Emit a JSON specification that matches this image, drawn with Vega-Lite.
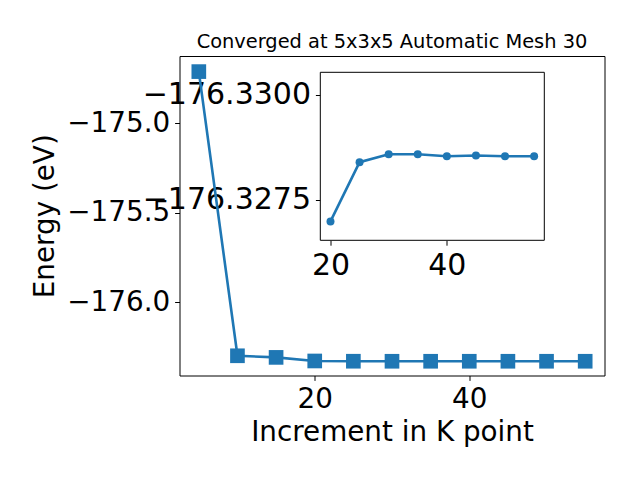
{
  "$schema": "https://vega.github.io/schema/vega-lite/v6.json",
  "autosize": "none",
  "width": 425,
  "height": 319.5,
  "padding": {"left": 179.5, "top": 56, "right": 35.5, "bottom": 104.5},
  "background": "white",
  "config": {
    "font": "DejaVu Sans",
    "view": {"stroke": "black", "strokeWidth": 1},
    "axis": {
      "grid": false,
      "domain": false,
      "tickColor": "black",
      "tickSize": 4.9,
      "tickWidth": 1,
      "labelPadding": 4.9,
      "labelFont": "DejaVu Sans",
      "labelFontSize": 27.8,
      "labelColor": "black",
      "titleFont": "DejaVu Sans",
      "titleFontSize": 27.8,
      "titleFontWeight": "normal",
      "titleColor": "black"
    }
  },
  "title": {
    "text": "Converged at 5x3x5 Automatic Mesh 30",
    "font": "DejaVu Sans",
    "fontSize": 19.4,
    "fontWeight": "normal",
    "color": "black",
    "anchor": "middle",
    "offset": 4
  },
  "datasets": {
    "main": [
      {"k": 5, "energy": -174.713},
      {"k": 10, "energy": -176.298},
      {"k": 15, "energy": -176.307},
      {"k": 20, "energy": -176.32699},
      {"k": 25, "energy": -176.3284},
      {"k": 30, "energy": -176.32859},
      {"k": 35, "energy": -176.32859},
      {"k": 40, "energy": -176.32854},
      {"k": 45, "energy": -176.32856},
      {"k": 50, "energy": -176.32854},
      {"k": 55, "energy": -176.32854}
    ],
    "inset": [
      {"k": 20, "energy": -176.32699},
      {"k": 25, "energy": -176.3284},
      {"k": 30, "energy": -176.32859},
      {"k": 35, "energy": -176.32859},
      {"k": 40, "energy": -176.32854},
      {"k": 45, "energy": -176.32856},
      {"k": 50, "energy": -176.32854},
      {"k": 55, "energy": -176.32854}
    ]
  },
  "layer": [
    {
      "data": {"name": "main"},
      "encoding": {
        "x": {
          "field": "k",
          "type": "quantitative",
          "scale": {"domain": [2.5, 57.5], "nice": false, "zero": false},
          "axis": {"orient": "bottom", "values": [20, 40], "title": "Increment in K point", "titlePadding": 5}
        },
        "y": {
          "field": "energy",
          "type": "quantitative",
          "scale": {"domain": [-176.408, -174.626], "nice": false, "zero": false},
          "axis": {"orient": "left", "values": [-176, -175.5, -175], "format": ".1f", "title": "Energy (eV)", "titlePadding": 7}
        }
      },
      "layer": [
        {"mark": {"type": "line", "color": "#1f77b4", "strokeWidth": 2.6}},
        {"mark": {"type": "point", "shape": "square", "filled": true, "opacity": 1, "color": "#1f77b4", "size": 215}}
      ]
    },
    {
      "layer": [
        {
          "data": {"values": [{"x0": 18.25, "x1": 56.75, "y0": -176.33054, "y1": -176.32654}]},
          "mark": {"type": "rect", "fill": "white", "stroke": "black", "strokeWidth": 1},
          "encoding": {
            "x": {"field": "x0", "type": "quantitative"},
            "x2": {"field": "x1"},
            "y": {"field": "y0", "type": "quantitative"},
            "y2": {"field": "y1"}
          }
        },
        {
          "data": {"name": "inset"},
          "mark": {"type": "line", "color": "#1f77b4", "strokeWidth": 2.6},
          "encoding": {
            "x": {"field": "k", "type": "quantitative"},
            "y": {"field": "energy", "type": "quantitative"}
          }
        },
        {
          "data": {"name": "inset"},
          "mark": {"type": "point", "shape": "circle", "filled": true, "opacity": 1, "color": "#1f77b4", "size": 64},
          "encoding": {
            "x": {"field": "k", "type": "quantitative"},
            "y": {"field": "energy", "type": "quantitative"}
          }
        }
      ],
      "encoding": {
        "x": {
          "type": "quantitative",
          "scale": {"domain": [18.25, 56.75], "range": [140.8, 364.8], "nice": false, "zero": false},
          "axis": {"orient": "bottom", "offset": -135.2, "values": [20, 40], "title": null, "labelFontSize": 30}
        },
        "y": {
          "type": "quantitative",
          "scale": {"domain": [-176.33054, -176.32654], "range": [16.3, 184.3], "nice": false, "zero": false},
          "axis": {"orient": "left", "offset": -140.8, "values": [-176.33, -176.3275], "format": ".4f", "title": null, "labelFontSize": 30}
        }
      }
    }
  ],
  "resolve": {"scale": {"x": "independent", "y": "independent"}}
}
